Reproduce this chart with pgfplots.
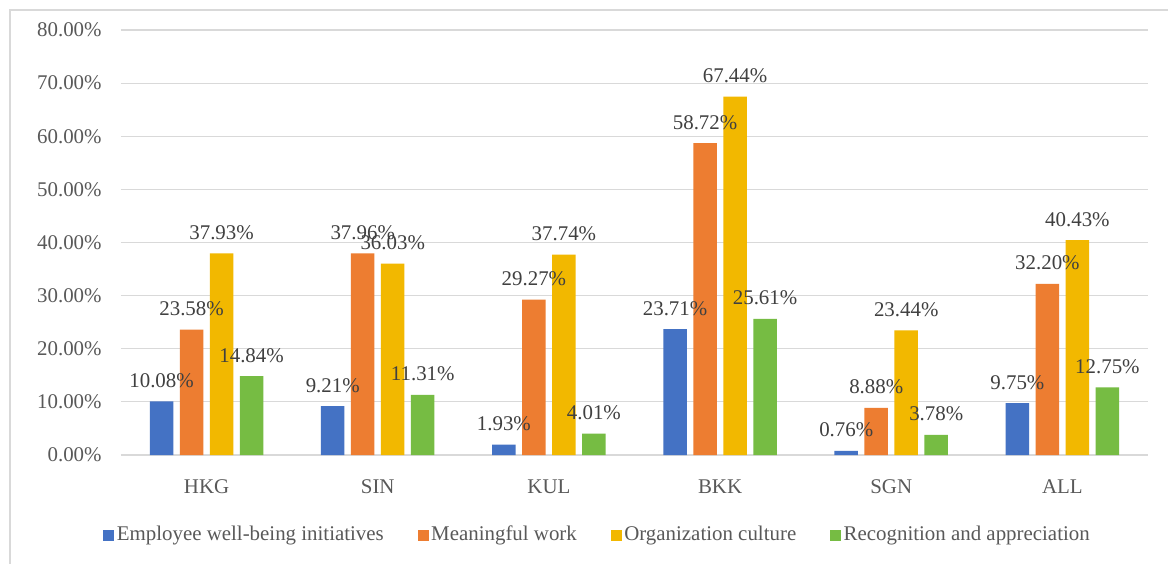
\documentclass[border=0pt]{standalone}
\usepackage{pgfplots}
\usepackage{pgfplotstable}
\usepackage{fontspec}
\setmainfont{Liberation Serif}
\pgfplotsset{compat=1.18}
\definecolor{cblue}{HTML}{4472C4}
\definecolor{corange}{HTML}{ED7D31}
\definecolor{cyellow}{HTML}{F2B800}
\definecolor{cgreen}{HTML}{76BC43}
\definecolor{tgray}{HTML}{595959}
\definecolor{lgray}{HTML}{404040}
\definecolor{ggray}{HTML}{D9D9D9}
\pgfplotstableread{
x a b c d
0 10.08 23.58 37.93 14.84
1 9.21 37.96 36.03 11.31
2 1.93 29.27 37.74 4.01
3 23.71 58.72 67.44 25.61
4 0.76 8.88 23.44 3.78
5 9.75 32.20 40.43 12.75
}\datatable
\begin{document}
\begin{tikzpicture}
\useasboundingbox (0,0) rectangle (584pt,281.5pt);
\fill[white] (0,0) rectangle (584pt,281.5pt);
\draw[ggray, line width=0.9pt] (5pt,-2pt) -- (5pt,276.5pt) -- (590pt,276.5pt);
\begin{axis}[
  at={(60.5pt,54pt)}, anchor=south west,
  scale only axis, width=513.5pt, height=212.5pt,
  ybar=3.25pt, bar width=11.75pt,
  xmin=-0.5, xmax=5.5, ymin=0, ymax=80,
  xtick={0,1,2,3,4,5},
  xticklabels={HKG,SIN,KUL,BKK,SGN,ALL},
  ytick={0,10,...,80},
  axis lines*=left,
  axis line style={draw=none},
  tick style={draw=none},
  ymajorgrids, grid style={ggray, line width=0.6pt},
  /pgf/number format/assume math mode=true,
  yticklabel={\pgfmathprintnumber[fixed,fixed zerofill,precision=2]{\tick}\%},
  yticklabel style={anchor=east, inner sep=0pt, xshift=-9.5pt, font=\fontsize{10.45}{12}\selectfont, text=tgray},
  xticklabel style={anchor=base, inner sep=0pt, yshift=-15pt, font=\fontsize{10.45}{12}\selectfont, text=tgray},
  nodes near coords={\pgfmathprintnumber[fixed,fixed zerofill,precision=2]{\pgfplotspointmeta}\%},
  every node near coord/.append style={anchor=base, inner sep=0pt, yshift=7pt, font=\fontsize{10.45}{12}\selectfont, text=lgray},
  legend columns=4,
  legend image code/.code={\fill[#1] (0pt,-3pt) rectangle (5.5pt,2.5pt);},
  legend style={at={(axis description cs:-0.0175,-0.188)}, anchor=west, draw=none, fill=none, inner sep=0pt,
    font=\fontsize{10.45}{12}\selectfont, text=tgray,
    nodes={inner xsep=1.2pt, inner ysep=0pt},
    /tikz/every even column/.append style={column sep=15.8pt}},
]
\addplot[fill=cblue, draw=none] table[x=x, y=a] {\datatable};
\addplot[fill=corange, draw=none] table[x=x, y=b] {\datatable};
\addplot[fill=cyellow, draw=none] table[x=x, y=c] {\datatable};
\addplot[fill=cgreen, draw=none] table[x=x, y=d] {\datatable};
\legend{Employee well-being initiatives, Meaningful work, Organization culture, Recognition and appreciation}
\end{axis}
\end{tikzpicture}
\end{document}
